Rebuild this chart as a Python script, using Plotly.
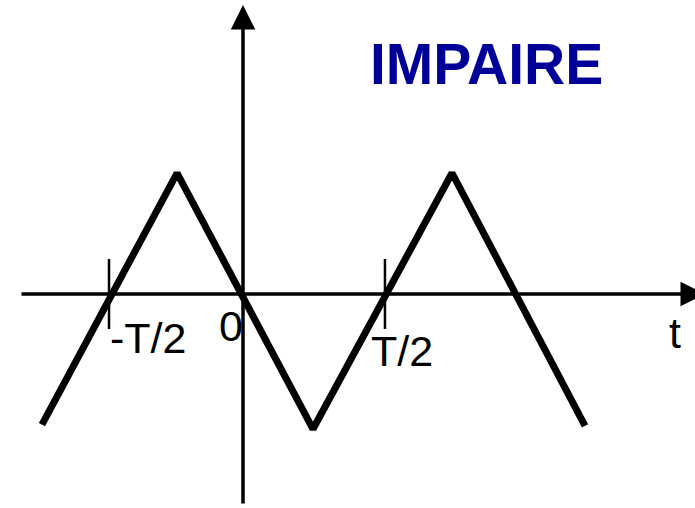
import plotly.graph_objects as go

# Triangle wave (odd function), t in units of T/2
wave_t = [-1.436, -0.471, 0.500, 1.493, 2.443]
wave_v = [-1.020, 0.945, -1.055, 0.945, -1.030]

# tick marks on the t axis
tick_t = [-0.957, 1.014]
tick_labels = ["-T/2", "T/2"]

title_text = "IMPAIRE"

FONT = "Liberation Sans, Arial, sans-serif"

fig = go.Figure()

fig.add_trace(go.Scatter(
    x=wave_t, y=wave_v, mode="lines",
    line=dict(color="black", width=7),
    hoverinfo="skip", showlegend=False,
))

fig.add_trace(go.Scatter(
    x=tick_t, y=[0] * len(tick_t), mode="markers",
    marker=dict(symbol="line-ns", size=50, line=dict(color="black", width=2.5)),
    hoverinfo="skip", showlegend=False,
))

annotations = []
# horizontal axis arrow
annotations.append(dict(x=3.30, y=0, ax=-1.593, ay=0, xref="x", yref="y",
                        axref="x", ayref="y", showarrow=True, arrowhead=2,
                        arrowwidth=3.5, arrowsize=1.4, arrowcolor="black", text=""))
# vertical axis arrow
annotations.append(dict(x=0, y=2.258, ax=0, ay=-1.648, xref="x", yref="y",
                        axref="x", ayref="y", showarrow=True, arrowhead=2,
                        arrowwidth=3.5, arrowsize=1.4, arrowcolor="black", text=""))

lab_font = dict(family=FONT, size=43, color="black")
shifts = [(39, -44), (17, -57)]
for tx, lab, (dx, dy) in zip(tick_t, tick_labels, shifts):
    annotations.append(dict(x=tx, y=0, xref="x", yref="y", text=lab, showarrow=False,
                            xshift=dx, yshift=dy, font=lab_font,
                            xanchor="center", yanchor="middle"))
annotations.append(dict(x=0, y=0, xref="x", yref="y", text="0", showarrow=False,
                        xshift=-12, yshift=-32, font=lab_font,
                        xanchor="center", yanchor="middle"))
annotations.append(dict(x=3.086, y=0, xref="x", yref="y", text="t", showarrow=False,
                        yshift=-39, font=lab_font, xanchor="center", yanchor="middle"))
annotations.append(dict(x=0.6993, y=0.874, xref="paper", yref="paper", text=f"<b>{title_text}</b>",
                        showarrow=False, font=dict(family=FONT, size=57, color="#000099"),
                        xanchor="center", yanchor="middle"))

fig.update_layout(
    width=695, height=508,
    margin=dict(l=0, r=0, t=0, b=0),
    paper_bgcolor="white", plot_bgcolor="white",
    xaxis=dict(range=[-243 / 140, 452 / 140], visible=False, fixedrange=True),
    yaxis=dict(range=[-214 / 128, 294 / 128], visible=False, fixedrange=True),
    annotations=annotations,
    showlegend=False,
)

fig.write_html("out.html", config={"displayModeBar": False},
               post_script="document.body.style.margin='0';document.body.style.overflow='hidden';")
